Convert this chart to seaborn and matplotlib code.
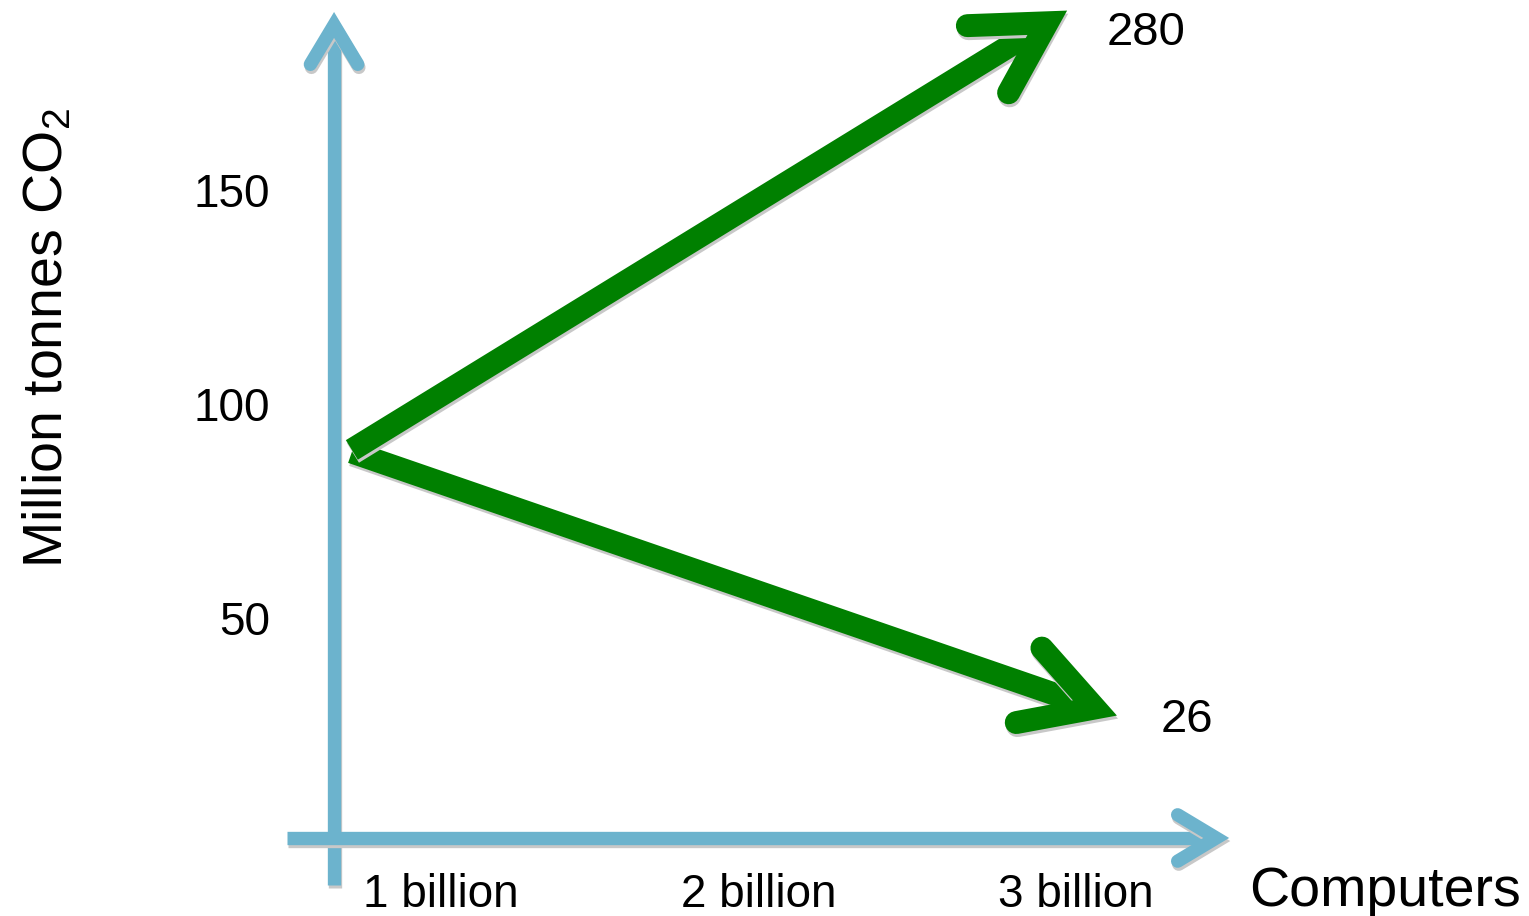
"""
Schematic: CO2 emissions of computers, two possible futures.
Light blue axes with arrowheads, two thick green arrows.
"""

import numpy as np
import pandas as pd
import matplotlib
matplotlib.use("Agg")
import matplotlib.pyplot as plt
import matplotlib.patheffects as pe
import seaborn as sns

# --- data -------------------------------------------------------------
x_ticks = [1, 2, 3]                       # billion computers
x_tick_labels = ["1 billion", "2 billion", "3 billion"]
y_ticks = [150, 100, 50]                  # million tonnes CO2
y_tick_labels = ["150", "100", "50"]

arrow_labels = ["280", "26"]
arrow_start_x = [0.72, 0.72]
arrow_start_y = [89.2, 88.7]
arrow_end_x = [2.91, 3.06]
arrow_end_y = [189.0, 28.9]
end_label_x = [3.22, 3.35]
end_label_y = [183.8, 23.3]

# axis lines (schematic)
Y_AXIS_X = 0.664
Y_AXIS_SPAN = (-12.45, 188.5)
X_AXIS_Y = -1.47
X_AXIS_SPAN = (0.516, 3.442)

XLIM = (-0.388, 4.427)
YLIM = (-19.70, 194.32)

BLUE = "#6CB3CD"
GREEN = "#008000"
SHADOW = [pe.SimpleLineShadow(offset=(0.8, -2.2), shadow_color="#c8c8c8", alpha=1.0),
          pe.Normal()]


def draw_head(ax, tail, tip, length_px, half_angle, color, lw):
    # arrow head as a chevron (wing - tip - wing) built in pixel space
    p0 = ax.transData.transform(tail)
    p1 = ax.transData.transform(tip)
    d = (p0 - p1) / np.linalg.norm(p0 - p1)
    pts = []
    for sgn in (1, -1):
        a = np.radians(sgn * half_angle)
        rot = np.array([[np.cos(a), -np.sin(a)], [np.sin(a), np.cos(a)]])
        pts.append(p1 + length_px * rot @ d)
    disp = np.array([pts[0], p1, pts[1]])
    dat = ax.transData.inverted().transform(disp)
    ax.plot(dat[:, 0], dat[:, 1], color=color, lw=lw, solid_joinstyle="miter",
            solid_capstyle="round", path_effects=SHADOW, zorder=5)


def main():
    sns.set_theme(style="white")
    plt.rcParams["font.family"] = ["Liberation Sans", "DejaVu Sans"]
    plt.rcParams["mathtext.fontset"] = "custom"
    plt.rcParams["mathtext.rm"] = "Liberation Sans"
    plt.rcParams["mathtext.default"] = "regular"

    fig = plt.figure(figsize=(15.29, 9.16), dpi=100)
    ax = fig.add_axes([0, 0, 1, 1])
    ax.set_xlim(*XLIM)
    ax.set_ylim(*YLIM)
    ax.set_axis_off()

    # blue axes
    ax.plot([Y_AXIS_X, Y_AXIS_X], Y_AXIS_SPAN, color=BLUE, lw=9.6,
            solid_capstyle="butt", path_effects=SHADOW, zorder=2)
    draw_head(ax, (Y_AXIS_X, Y_AXIS_SPAN[0]), (Y_AXIS_X, Y_AXIS_SPAN[1]), 46, 31, BLUE, 9.6)
    ax.plot(X_AXIS_SPAN, [X_AXIS_Y, X_AXIS_Y], color=BLUE, lw=9.6,
            solid_capstyle="butt", path_effects=SHADOW, zorder=3)
    draw_head(ax, (X_AXIS_SPAN[0], X_AXIS_Y), (X_AXIS_SPAN[1], X_AXIS_Y), 45, 31, BLUE, 9.6)

    # green arrows (shafts via seaborn)
    df = pd.DataFrame({
        "computers": arrow_start_x + arrow_end_x,
        "co2": arrow_start_y + arrow_end_y,
        "arrow": arrow_labels * 2,
    })
    sns.lineplot(data=df, x="computers", y="co2", hue="arrow", hue_order=["26", "280"],
                 palette={"280": GREEN, "26": GREEN}, estimator=None, sort=False,
                 legend=False, lw=16.5, solid_capstyle="butt", path_effects=SHADOW,
                 zorder=4, ax=ax)
    ax.set_xlim(*XLIM)
    ax.set_ylim(*YLIM)
    ax.set_axis_off()
    for i in [1, 0]:
        draw_head(ax, (arrow_start_x[i], arrow_start_y[i]), (arrow_end_x[i], arrow_end_y[i]),
                  80, 29.5, GREEN, 16.5)

    # labels
    for x, y, t in zip(end_label_x, end_label_y, arrow_labels):
        ax.text(x, y, t, fontsize=34, ha="center", va="baseline", color="black")
    for x, t in zip(x_ticks, x_tick_labels):
        ax.text(x, 0.0095, t, fontsize=33, ha="center", va="baseline",
                transform=ax.get_xaxis_transform(), color="black")
    for y, t in zip(y_ticks, y_tick_labels):
        ax.text(0.1766, y, t, fontsize=33, ha="right", va="center_baseline",
                transform=ax.get_yaxis_transform(), color="black")

    ax.text(1385 / 1529, 1 - 906 / 916, "Computers", fontsize=40, ha="center",
            va="baseline", transform=ax.transAxes, color="black")
    ax.text(62 / 1529, 1 - 338 / 916, "Million tonnes CO$_2$", fontsize=40, rotation=90,
            rotation_mode="anchor", ha="center", va="baseline",
            transform=ax.transAxes, color="black")

    fig.savefig("out.png", dpi=100, facecolor="white")
    plt.close(fig)


if __name__ == "__main__":
    main()
